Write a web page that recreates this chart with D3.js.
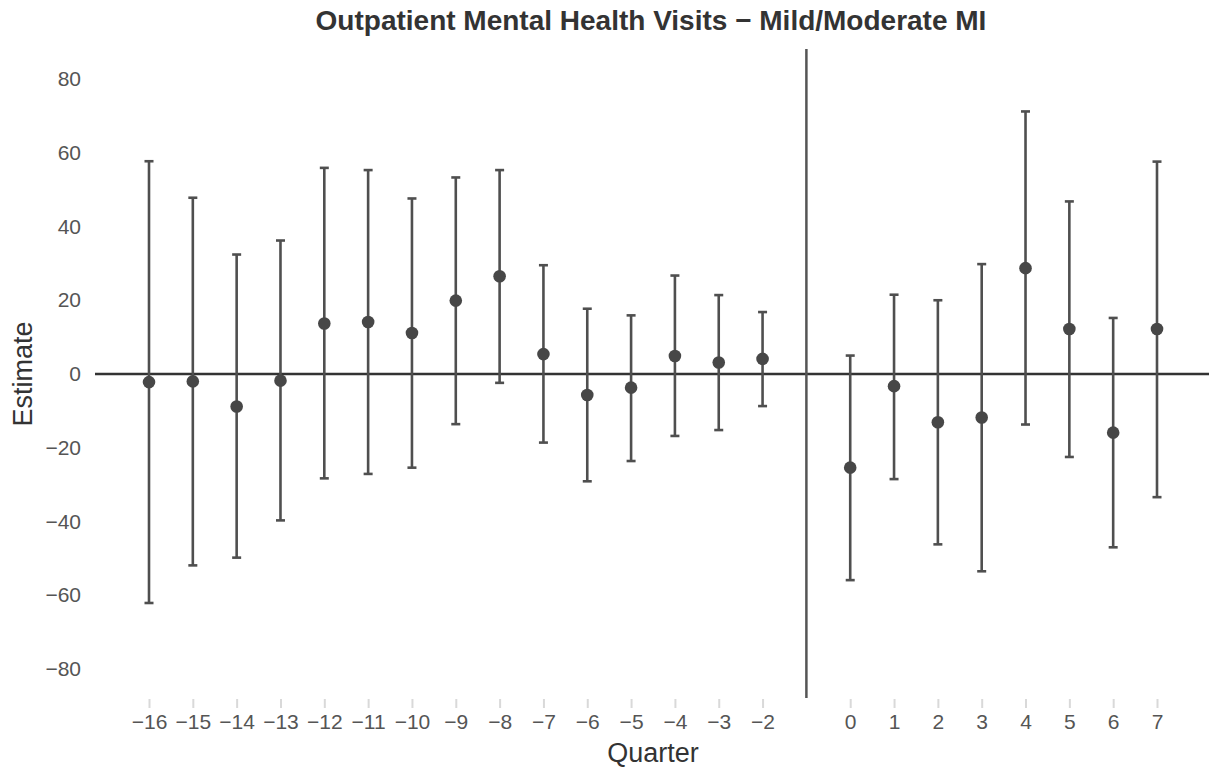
<!DOCTYPE html>
<html>
<head>
<meta charset="utf-8">
<script src="https://cdn.jsdelivr.net/npm/d3@7"></script>
<style>
  html, body { margin: 0; padding: 0; background: #fff; }
  svg { display: block; font-family: "Liberation Sans", Arial, Helvetica, sans-serif; }
</style>
</head>
<body>
<svg id="chart" width="1209" height="772"></svg>
<script>
// Event-study estimates by quarter relative to treatment (quarter -1 is the reference period)
const quarters = [-16, -15, -14, -13, -12, -11, -10, -9, -8, -7, -6, -5, -4, -3, -2, 0, 1, 2, 3, 4, 5, 6, 7];
const estimates = [-2.2, -2.0, -8.8, -1.8, 13.7, 14.1, 11.1, 19.9, 26.5, 5.4, -5.7, -3.7, 4.9, 3.1, 4.1,
                   -25.4, -3.3, -13.1, -11.8, 28.7, 12.2, -15.9, 12.2];
const upper = [57.7, 47.8, 32.4, 36.2, 55.9, 55.3, 47.6, 53.3, 55.3, 29.5, 17.7, 15.9, 26.7, 21.4, 16.8,
               5.0, 21.5, 20.0, 29.8, 71.2, 46.8, 15.2, 57.6];
const lower = [-62.1, -51.9, -49.8, -39.7, -28.3, -27.1, -25.4, -13.6, -2.4, -18.6, -29.1, -23.6, -16.8, -15.2, -8.7,
               -55.9, -28.5, -46.2, -53.5, -13.7, -22.5, -47.0, -33.4];
const yTicks = [-80, -60, -40, -20, 0, 20, 40, 60, 80];
const referenceQuarter = -1;

const svg = d3.select("#chart");

const x = d3.scaleLinear().domain([-16, 7]).range([149, 1157]);
const y = d3.scaleLinear().domain([-80, 80]).range([669, 79]);

const rows = quarters.map((q, i) => ({ q, est: estimates[i], hi: upper[i], lo: lower[i] }));
const fmt = d => d < 0 ? "\u2212" + Math.abs(d) : d;

// Title
svg.append("text")
  .attr("x", 651).attr("y", 30)
  .attr("text-anchor", "middle")
  .attr("font-size", 28).attr("font-weight", "bold")
  .attr("fill", "#333")
  .text("Outpatient Mental Health Visits \u2212 Mild/Moderate MI");

// Y axis (labels only)
const yAxis = svg.append("g")
  .attr("transform", "translate(87,0)")
  .call(d3.axisLeft(y).tickValues(yTicks).tickSize(0).tickPadding(6).tickFormat(fmt));
yAxis.select(".domain").remove();
yAxis.selectAll("text").attr("font-size", 21).attr("fill", "#555").attr("font-family", null);

// X axis: light tick marks and labels
const xAxis = svg.append("g")
  .attr("transform", "translate(0,699)")
  .call(d3.axisBottom(x).tickValues(quarters).tickSize(9).tickPadding(6).tickFormat(fmt));
xAxis.select(".domain").remove();
xAxis.selectAll("line").attr("stroke", "#d9d9d9").attr("stroke-width", 2);
xAxis.selectAll("text").attr("font-size", 21).attr("fill", "#555").attr("font-family", null);

// Axis titles
svg.append("text")
  .attr("x", 653).attr("y", 762)
  .attr("text-anchor", "middle")
  .attr("font-size", 27).attr("fill", "#333")
  .text("Quarter");
svg.append("text")
  .attr("transform", `translate(32,${y(0)}) rotate(-90)`)
  .attr("text-anchor", "middle")
  .attr("font-size", 27).attr("fill", "#333")
  .text("Estimate");

// Zero line
svg.append("line")
  .attr("x1", 95).attr("x2", 1209)
  .attr("y1", y(0)).attr("y2", y(0))
  .attr("stroke", "#333").attr("stroke-width", 2.5);

// Reference period line
svg.append("line")
  .attr("x1", x(referenceQuarter)).attr("x2", x(referenceQuarter))
  .attr("y1", 49).attr("y2", 698)
  .attr("stroke", "#555").attr("stroke-width", 2.5);

// Confidence intervals
const bars = svg.append("g").attr("stroke", "#4f4f4f").attr("stroke-width", 2.6);
bars.selectAll("line.ci").data(rows).join("line")
  .attr("class", "ci")
  .attr("x1", d => x(d.q)).attr("x2", d => x(d.q))
  .attr("y1", d => y(d.hi)).attr("y2", d => y(d.lo));
const capHalf = 4.5;
bars.selectAll("line.cap-hi").data(rows).join("line")
  .attr("class", "cap-hi")
  .attr("x1", d => x(d.q) - capHalf).attr("x2", d => x(d.q) + capHalf)
  .attr("y1", d => y(d.hi)).attr("y2", d => y(d.hi));
bars.selectAll("line.cap-lo").data(rows).join("line")
  .attr("class", "cap-lo")
  .attr("x1", d => x(d.q) - capHalf).attr("x2", d => x(d.q) + capHalf)
  .attr("y1", d => y(d.lo)).attr("y2", d => y(d.lo));

// Point estimates
svg.append("g").selectAll("circle").data(rows).join("circle")
  .attr("cx", d => x(d.q)).attr("cy", d => y(d.est))
  .attr("r", 6.3)
  .attr("fill", "#474747");
</script>
</body>
</html>
